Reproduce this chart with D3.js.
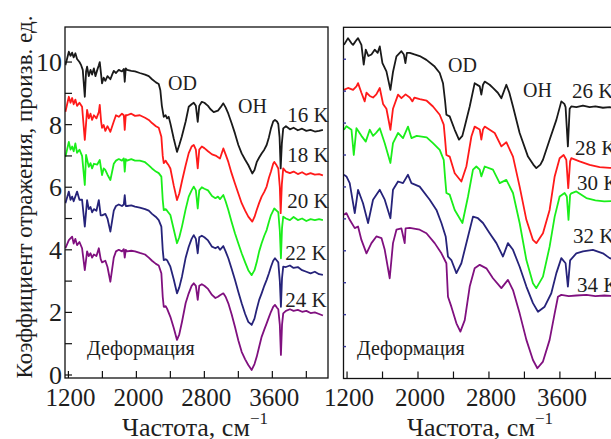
<!DOCTYPE html>
<html>
<head>
<meta charset="utf-8">
<script src="https://cdn.jsdelivr.net/npm/d3@7"></script>
<style>
  body { margin: 0; background: #fff; }
  svg { display: block; }
  text { font-family: "Liberation Serif", "DejaVu Serif", serif; fill: #1e1e1e; }
</style>
</head>
<body>
<svg id="chart" width="611" height="439"></svg>
<script>
// Reflection spectra [frequency cm^-1, reflectance] for each temperature.
const k16 = [[1165,9.9],[1205,10.33],[1225,10.2],[1244,10.3],[1262,10.15],[1282,10.28],[1302,10.1],[1330,10.0],[1350,9.9],[1369,9.75],[1393,8.89],[1408,9.7],[1420,9.85],[1440,9.55],[1460,9.75],[1479,9.6],[1500,9.8],[1518,9.55],[1540,9.75],[1558,9.9],[1569,10.0],[1585,9.6],[1596,9.32],[1615,9.5],[1635,9.4],[1660,9.55],[1694,9.45],[1715,9.6],[1734,9.72],[1760,9.65],[1793,9.75],[1830,9.7],[1852,9.78],[1863,9.37],[1875,9.8],[1890,9.75],[1940,9.72],[1984,9.7],[2040,9.65],[2102,9.6],[2146,9.55],[2184,9.45],[2230,9.35],[2263,9.3],[2282,9.1],[2300,8.6],[2322,8.25],[2345,8.3],[2361,8.2],[2380,8.25],[2400,8.04],[2440,7.55],[2478,7.13],[2505,7.35],[2534,7.61],[2580,8.1],[2616,8.57],[2650,8.65],[2675,8.7],[2700,8.6],[2722,8.09],[2740,8.6],[2770,8.73],[2800,8.7],[2843,8.6],[2870,8.5],[2910,8.4],[2960,8.45],[2990,8.55],[3023,8.68],[3050,8.55],[3082,8.35],[3120,8.05],[3160,7.72],[3200,7.35],[3239,7.08],[3280,6.88],[3317,6.71],[3364,6.44],[3390,6.55],[3416,6.8],[3445,6.95],[3474,7.08],[3505,7.2],[3533,7.35],[3560,7.6],[3584,7.88],[3610,8.1],[3631,8.15],[3655,8.1],[3670,8.02],[3685,7.6],[3698,6.6],[3712,7.4],[3728,7.88],[3760,7.95],[3807,7.85],[3850,7.9],[3900,7.82],[3950,7.87],[4000,7.8],[4050,7.83],[4100,7.78],[4150,7.8],[4195,7.83]];
const k18 = [[1165,8.41],[1205,8.89],[1225,8.7],[1244,8.85],[1262,8.65],[1282,8.8],[1302,8.6],[1330,8.7],[1361,8.57],[1393,7.51],[1420,8.47],[1440,8.2],[1460,8.35],[1479,8.15],[1500,8.3],[1530,8.2],[1558,8.4],[1569,8.63],[1585,8.1],[1596,7.9],[1615,7.99],[1635,7.8],[1660,7.95],[1694,7.77],[1734,8.1],[1760,8.3],[1793,8.25],[1830,8.35],[1852,8.3],[1863,7.83],[1875,8.3],[1890,8.3],[1940,8.35],[1984,8.28],[2040,8.3],[2102,8.22],[2146,8.15],[2184,8.05],[2230,7.95],[2263,7.9],[2294,7.61],[2310,7.0],[2322,6.77],[2345,6.85],[2361,6.77],[2380,6.7],[2400,6.6],[2440,6.05],[2478,5.59],[2505,5.8],[2537,6.2],[2580,6.7],[2616,7.09],[2650,7.3],[2675,7.35],[2700,7.2],[2722,6.6],[2740,7.2],[2770,7.3],[2800,7.25],[2843,7.15],[2890,7.05],[2940,7.0],[2984,6.92],[3023,7.24],[3050,7.05],[3082,6.81],[3120,6.45],[3160,6.12],[3200,5.8],[3239,5.49],[3280,5.25],[3317,5.06],[3364,4.9],[3390,5.05],[3416,5.27],[3445,5.5],[3474,5.7],[3505,5.85],[3533,6.02],[3560,6.3],[3584,6.5],[3610,6.75],[3623,6.81],[3650,6.7],[3670,6.6],[3688,6.0],[3698,5.17],[3712,6.1],[3728,6.6],[3760,6.5],[3807,6.45],[3850,6.5],[3900,6.42],[3950,6.48],[4000,6.4],[4050,6.45],[4100,6.4],[4150,6.42],[4195,6.38]];
const k20 = [[1165,6.97],[1205,7.45],[1225,7.2],[1244,7.3],[1262,7.15],[1282,7.4],[1302,7.1],[1330,7.2],[1361,7.0],[1393,6.07],[1408,7.03],[1440,6.65],[1460,6.77],[1479,6.6],[1500,6.75],[1538,6.72],[1569,6.87],[1596,6.39],[1615,6.6],[1635,6.55],[1660,6.4],[1694,6.23],[1734,6.75],[1760,6.85],[1793,6.9],[1830,6.85],[1852,6.92],[1863,6.5],[1875,6.9],[1890,6.85],[1940,6.9],[1984,6.85],[2040,6.85],[2102,6.8],[2146,6.7],[2184,6.6],[2230,6.5],[2263,6.45],[2294,6.34],[2310,5.6],[2322,5.27],[2345,5.3],[2361,5.25],[2400,5.11],[2440,4.65],[2478,4.21],[2505,4.4],[2537,4.75],[2580,5.3],[2616,5.7],[2650,5.9],[2675,6.02],[2700,5.9],[2722,5.32],[2740,5.9],[2770,6.0],[2800,5.95],[2843,5.9],[2890,5.72],[2930,5.65],[2960,5.7],[2984,5.62],[3023,5.75],[3050,5.55],[3082,5.27],[3120,4.9],[3160,4.53],[3200,4.2],[3239,3.89],[3280,3.6],[3317,3.35],[3357,3.19],[3390,3.35],[3416,3.6],[3445,3.95],[3474,4.21],[3505,4.45],[3533,4.63],[3560,4.9],[3584,5.11],[3610,5.25],[3623,5.32],[3650,5.25],[3670,5.2],[3688,4.6],[3701,3.73],[3714,4.7],[3728,5.06],[3760,5.0],[3807,4.95],[3850,5.05],[3900,4.95],[3950,5.0],[4000,4.92],[4050,4.98],[4100,4.95],[4150,4.98],[4195,4.95]];
const k22 = [[1165,5.49],[1205,5.86],[1225,5.6],[1244,5.7],[1262,5.55],[1302,5.86],[1330,5.6],[1361,5.6],[1393,4.74],[1420,5.59],[1440,5.3],[1460,5.37],[1479,5.2],[1500,5.3],[1530,5.25],[1558,5.59],[1580,5.1],[1596,5.1],[1635,5.15],[1660,5.0],[1694,4.58],[1734,5.25],[1760,5.4],[1793,5.45],[1830,5.4],[1852,5.45],[1863,5.75],[1875,5.4],[1890,5.4],[1940,5.42],[1984,5.38],[2040,5.35],[2102,5.3],[2146,5.25],[2184,5.15],[2230,5.05],[2263,4.95],[2294,4.74],[2310,4.0],[2322,3.67],[2345,3.7],[2361,3.67],[2400,3.46],[2440,3.05],[2478,2.61],[2505,2.8],[2537,3.15],[2580,3.75],[2616,4.1],[2650,4.35],[2675,4.47],[2700,4.35],[2722,3.89],[2740,4.4],[2770,4.45],[2800,4.4],[2843,4.3],[2890,4.1],[2930,4.05],[2960,4.1],[2984,4.0],[3023,4.12],[3050,3.95],[3082,3.73],[3120,3.4],[3160,3.04],[3200,2.65],[3239,2.29],[3280,1.95],[3317,1.7],[3357,1.6],[3390,1.8],[3416,2.1],[3445,2.4],[3474,2.61],[3505,2.85],[3533,3.04],[3560,3.25],[3584,3.46],[3610,3.65],[3631,3.73],[3655,3.65],[3670,3.6],[3688,3.0],[3701,2.18],[3714,3.1],[3728,3.46],[3760,3.45],[3807,3.5],[3850,3.42],[3900,3.45],[3950,3.35],[4000,3.3],[4050,3.25],[4100,3.3],[4150,3.22],[4195,3.2]];
const k24 = [[1165,4.05],[1205,4.31],[1244,4.42],[1262,4.2],[1282,4.35],[1302,4.15],[1330,4.25],[1361,4.05],[1393,3.35],[1420,3.95],[1440,3.8],[1460,3.89],[1479,3.75],[1500,3.85],[1530,3.8],[1558,4.05],[1580,3.7],[1596,3.6],[1635,3.65],[1660,3.45],[1694,2.98],[1734,3.75],[1760,3.95],[1793,4.0],[1830,3.95],[1852,4.02],[1863,3.75],[1875,4.0],[1890,3.95],[1940,3.97],[1984,3.95],[2040,3.9],[2102,3.85],[2146,3.75],[2184,3.65],[2230,3.55],[2263,3.5],[2294,3.25],[2310,2.5],[2322,2.18],[2345,2.2],[2361,2.12],[2400,1.86],[2440,1.5],[2478,1.12],[2505,1.3],[2537,1.7],[2580,2.3],[2616,2.61],[2650,2.85],[2675,2.93],[2700,2.85],[2722,2.4],[2740,2.85],[2770,2.9],[2800,2.85],[2843,2.75],[2890,2.56],[2930,2.46],[2960,2.5],[2984,2.55],[3023,2.61],[3050,2.5],[3082,2.29],[3120,1.95],[3160,1.54],[3200,1.1],[3239,0.74],[3280,0.5],[3317,0.32],[3357,0.16],[3390,0.35],[3416,0.58],[3445,0.9],[3474,1.22],[3505,1.45],[3533,1.65],[3560,1.85],[3584,2.02],[3610,2.18],[3631,2.24],[3655,2.15],[3670,2.1],[3688,1.6],[3701,0.64],[3714,1.6],[3728,1.97],[3760,2.05],[3807,2.1],[3850,2.05],[3900,2.08],[3950,2.02],[4000,2.05],[4050,1.98],[4100,2.0],[4150,1.95],[4195,1.9]];

const k26 = [[1165,10.45],[1211,10.66],[1250,10.5],[1268,10.45],[1306,10.6],[1324,10.66],[1362,10.45],[1388,9.83],[1411,10.3],[1440,10.1],[1475,10.15],[1512,10.3],[1545,10.2],[1569,10.4],[1599,9.88],[1644,9.62],[1689,9.04],[1718,9.6],[1757,10.09],[1813,10.25],[1840,10.15],[1858,9.88],[1875,10.2],[1907,10.2],[1960,10.15],[2019,10.1],[2095,9.98],[2188,9.77],[2245,9.57],[2282,9.25],[2305,8.7],[2320,8.26],[2357,8.21],[2414,7.79],[2462,7.48],[2500,7.6],[2527,7.89],[2583,8.52],[2639,9.25],[2696,9.15],[2714,8.89],[2733,9.2],[2752,9.3],[2808,9.2],[2845,9.1],[2900,8.95],[2940,8.78],[2996,9.2],[3030,8.95],[3071,8.52],[3146,7.69],[3240,6.95],[3300,6.7],[3334,6.59],[3380,6.7],[3409,6.85],[3484,7.48],[3560,8.1],[3616,8.68],[3650,8.6],[3664,8.5],[3690,7.27],[3710,8.45],[3728,8.52],[3785,8.5],[3860,8.55],[3935,8.5],[4000,8.52],[4085,8.48],[4161,8.5],[4250,8.45]];
const k28 = [[1165,9.04],[1211,9.1],[1268,9.04],[1306,9.15],[1324,9.25],[1362,8.95],[1399,8.68],[1419,8.95],[1456,8.85],[1493,8.8],[1530,8.9],[1569,9.1],[1606,8.6],[1644,8.45],[1689,7.79],[1718,8.45],[1775,8.89],[1813,8.78],[1860,8.9],[1907,8.8],[1937,8.68],[1960,8.8],[2019,8.75],[2098,8.7],[2169,8.52],[2245,8.26],[2290,7.95],[2305,7.5],[2320,7.0],[2357,6.95],[2414,6.43],[2489,6.17],[2546,6.65],[2602,7.58],[2639,7.89],[2696,7.8],[2714,7.48],[2733,7.8],[2752,7.89],[2865,7.69],[2940,7.27],[2996,7.4],[3071,6.95],[3146,6.01],[3222,4.97],[3296,4.34],[3334,4.24],[3409,4.55],[3484,5.28],[3541,6.33],[3597,6.9],[3642,7.0],[3672,6.85],[3694,5.96],[3715,6.8],[3728,6.9],[3822,6.8],[3935,6.69],[4048,6.62],[4161,6.6],[4250,6.6]];
const k30 = [[1165,7.79],[1193,7.9],[1250,7.79],[1276,7.0],[1306,7.84],[1362,7.6],[1411,7.42],[1456,7.79],[1493,7.6],[1530,7.7],[1569,7.84],[1625,7.37],[1689,6.75],[1718,7.37],[1775,7.69],[1831,7.53],[1887,7.89],[1926,7.53],[1986,7.6],[2098,7.55],[2169,7.37],[2245,7.16],[2290,6.85],[2305,6.3],[2320,5.81],[2357,5.76],[2414,5.28],[2501,4.87],[2564,5.7],[2620,6.54],[2658,6.64],[2696,6.54],[2714,6.33],[2752,6.64],[2845,6.54],[2921,6.12],[2996,6.22],[3071,5.81],[3146,4.87],[3222,3.71],[3296,2.98],[3334,2.83],[3409,3.19],[3484,4.13],[3541,5.07],[3597,5.7],[3653,5.81],[3678,5.7],[3697,4.97],[3715,5.75],[3728,5.8],[3785,5.86],[3898,5.65],[4000,5.58],[4100,5.55],[4250,5.56]];
const k32 = [[1165,6.38],[1193,6.33],[1230,6.12],[1287,5.18],[1324,5.91],[1380,5.49],[1437,4.87],[1493,5.6],[1569,5.91],[1625,5.6],[1689,5.02],[1718,5.91],[1775,6.17],[1831,6.12],[1887,6.38],[1926,6.12],[2019,6.01],[2132,5.6],[2208,5.28],[2264,4.87],[2312,4.45],[2338,3.82],[2376,3.71],[2433,3.3],[2489,3.61],[2564,4.45],[2620,5.07],[2676,5.02],[2733,4.87],[2808,4.55],[2884,4.24],[2958,3.82],[3014,4.24],[3071,4.03],[3146,3.5],[3222,2.88],[3296,2.36],[3353,2.09],[3428,2.25],[3503,2.67],[3560,3.3],[3616,3.77],[3664,3.61],[3690,2.88],[3715,3.7],[3785,3.92],[3860,3.98],[3972,4.03],[4085,3.92],[4161,3.77],[4250,3.7]];
const k34 = [[1165,5.13],[1193,5.18],[1230,4.97],[1287,4.71],[1324,4.76],[1362,4.34],[1419,3.92],[1475,4.24],[1531,4.45],[1588,4.4],[1625,4.03],[1681,3.14],[1718,4.24],[1757,4.66],[1813,4.7],[1850,4.24],[1860,4.7],[1907,4.72],[2019,4.66],[2095,4.55],[2188,4.24],[2264,3.92],[2320,3.61],[2338,2.56],[2376,2.25],[2433,1.73],[2478,1.47],[2527,1.83],[2583,2.88],[2639,3.45],[2696,3.56],[2771,3.45],[2845,3.14],[2940,2.83],[3014,3.09],[3071,2.77],[3146,2.04],[3222,1.21],[3296,0.58],[3346,0.32],[3409,0.53],[3484,1.21],[3541,2.04],[3578,2.56],[3616,2.62],[3700,2.58],[3785,2.6],[3900,2.62],[4000,2.58],[4100,2.6],[4250,2.58]];

const seriesColors = ["#1a1a1a", "#ff1a1a", "#1aee1a", "#26237a", "#80107f"];
const leftLabels = ["16 K", "18 K", "20 K", "22 K", "24 K"];
const rightLabels = ["26 K", "28 K", "30 K", "32 K", "34 K"];
// label anchor points [frequency, reflectance]
const leftLabelPos = [[3775, 8.08], [3775, 6.8], [3775, 5.34], [3752, 3.67], [3752, 2.17]];
const rightLabelPos = [[3736, 8.79], [3770, 7.0], [3792, 5.91], [3747, 4.25], [3792, 2.71]];

const xTicks = [1200, 1600, 2000, 2400, 2800, 3200, 3600, 4000];
const xTickLabels = [1200, 2000, 2800, 3600];
const yTicksLeft = [0, 1, 2, 3, 4, 5, 6, 7, 8, 9, 10];
const yTickLabels = [0, 2, 4, 6, 8, 10];
const yTicksRight = [1, 2, 3, 4, 5, 6, 7, 8, 9, 10];

const svg = d3.select("#chart");
const FONT = "Liberation Serif, DejaVu Serif, serif";

const panels = [
  { id: "L", series: [k16, k18, k20, k22, k24], labels: leftLabels, labelPos: leftLabelPos,
    x: d3.scaleLinear().domain([1160, 4255]).range([65, 328]),
    y: d3.scaleLinear().domain([-0.096, 11.12]).range([378, 27]),
    od: [168, 90], oh: [238, 113], def: [87, 355], title: 122, yAxis: true },
  { id: "R", series: [k26, k28, k30, k32, k34], labels: rightLabels, labelPos: rightLabelPos,
    x: d3.scaleLinear().domain([1160, 4255]).range([343.5, 618]),
    y: d3.scaleLinear().domain([0, 11]).range([378.5, 27.3]),
    od: [448, 72], oh: [523, 97], def: [357, 355], title: 407, yAxis: false }
];

function label(g, x, y, size, str) {
  return g.append("text").attr("x", x).attr("y", y)
    .attr("font-family", FONT).attr("font-size", size).text(str);
}

panels.forEach(p => {
  const g = svg.append("g");
  const [x0, x1] = p.x.range();
  const [yb, yt] = p.y.range();

  g.append("clipPath").attr("id", "clip" + p.id)
    .append("rect").attr("x", x0).attr("y", yt).attr("width", x1 - x0).attr("height", yb - yt);

  const line = d3.line().x(d => p.x(d[0])).y(d => p.y(d[1]));
  const curves = g.append("g").attr("clip-path", `url(#clip${p.id})`);
  p.series.forEach((s, i) => {
    curves.append("path").datum(s).attr("d", line)
      .attr("fill", "none").attr("stroke", seriesColors[i])
      .attr("stroke-width", 1.8).attr("stroke-linejoin", "round");
  });

  // frame
  g.append("rect").attr("x", x0).attr("y", yt).attr("width", x1 - x0).attr("height", yb - yt)
    .attr("fill", "none").attr("stroke", "#111").attr("stroke-width", 1.3);

  // x ticks (inward) and labels
  g.selectAll(".xt").data(xTicks).enter().append("line")
    .attr("x1", d => p.x(d)).attr("x2", d => p.x(d))
    .attr("y1", yb).attr("y2", yb - 7)
    .attr("stroke", "#111").attr("stroke-width", 1.2);
  g.selectAll(".xl").data(xTickLabels).enter().append("text")
    .attr("x", d => p.x(d) + 2).attr("y", 406)
    .attr("text-anchor", "middle").attr("font-family", FONT).attr("font-size", 25)
    .text(d => d);

  if (p.yAxis) {
    g.selectAll(".yt").data(yTicksLeft).enter().append("line")
      .attr("x1", x0).attr("x2", x0 + 7)
      .attr("y1", d => p.y(d)).attr("y2", d => p.y(d))
      .attr("stroke", "#111").attr("stroke-width", 1.2);
    g.selectAll(".yl").data(yTickLabels).enter().append("text")
      .attr("x", 62).attr("y", d => p.y(d) + 9)
      .attr("text-anchor", "end").attr("font-family", FONT).attr("font-size", 26)
      .text(d => d);
  } else {
    g.selectAll(".yt").data(yTicksRight).enter().append("line")
      .attr("x1", x0).attr("x2", x0 + 2.5)
      .attr("y1", d => p.y(d)).attr("y2", d => p.y(d))
      .attr("stroke", "#3a3aa0").attr("stroke-width", 1.4);
  }

  // temperature labels
  p.labels.forEach((t, i) => {
    label(g, p.x(p.labelPos[i][0]), p.y(p.labelPos[i][1]), 21, t);
  });

  label(g, p.od[0], p.od[1], 20, "OD");
  label(g, p.oh[0], p.oh[1], 20, "OH");
  label(g, p.def[0], p.def[1], 20, "Деформация");

  // x axis title with superscript
  const title = label(g, p.title, 436, 26, null);
  title.append("tspan").text("Частота, см");
  title.append("tspan").attr("font-size", 17).attr("dy", -12).text("\u22121");
});

// y axis title
svg.append("text")
  .attr("transform", "translate(32,197) rotate(-90)")
  .attr("text-anchor", "middle").attr("font-family", FONT).attr("font-size", 23)
  .text("Коэффициент отражения, произв. ед.");
</script>
</body>
</html>
